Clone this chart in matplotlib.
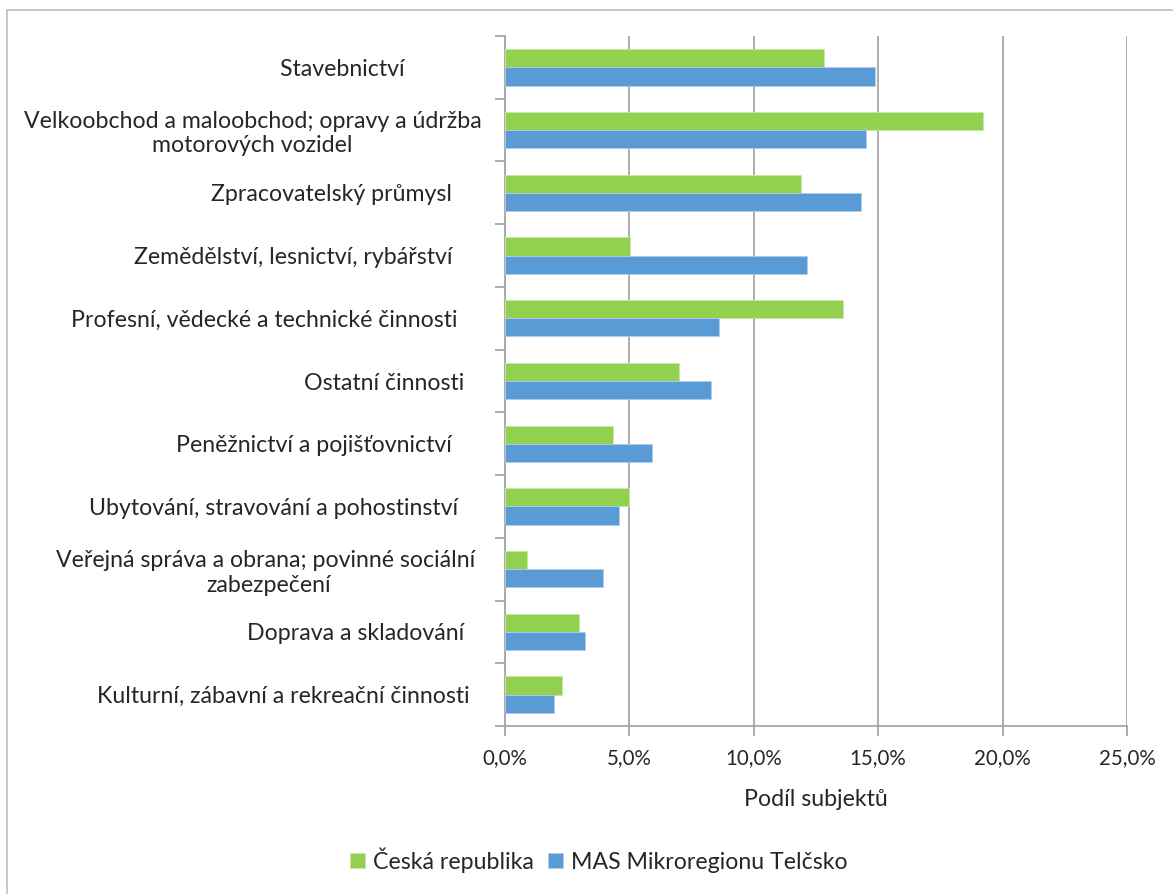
import matplotlib
matplotlib.use("Agg")
import matplotlib.pyplot as plt
from matplotlib.patches import Rectangle
from matplotlib.ticker import FuncFormatter, MultipleLocator
import numpy as np

plt.rcParams['font.family'] = ['Lato', 'DejaVu Sans']

categories = [
    "Stavebnictví" + " " * 13,
    "Velkoobchod a maloobchod; opravy a údržba\nmotorových vozidel",
    "Zpracovatelský průmysl" + " " * 5,
    "Zemědělství, lesnictví, rybářství" + " " * 5,
    "Profesní, vědecké a technické činnosti" + " " * 4,
    "Ostatní činnosti" + " " * 3,
    "Peněžnictví a pojišťovnictví" + " " * 5,
    "Ubytování, stravování a pohostinství" + " " * 4,
    "Veřejná správa a obrana; povinné sociální" + " " + "\nzabezpečení",
    "Doprava a skladování" + " " * 3,
    "Kulturní, zábavní a rekreační činnosti" + " " * 2,
]
cr_values = [12.81, 19.20, 11.88, 5.02, 13.57, 7.01, 4.36, 5.00, 0.88, 2.96, 2.29]
mas_values = [14.88, 14.50, 14.30, 12.12, 8.61, 8.27, 5.91, 4.60, 3.93, 3.21, 1.95]
series_names = ["Česká republika", "MAS Mikroregionu Telčsko"]
x_label = "Podíl subjektů"

green = "#92D050"
blue = "#5B9BD5"
grid_c = "#A6A6A6"
text_c = "#262626"

W, H = 1173, 894
fig = plt.figure(figsize=(W / 100, H / 100), dpi=100)
ax = fig.add_axes([505 / W, 1 - 726 / H, (1127 - 505) / W, (726 - 36) / H])

n = len(categories)
y = np.arange(n)
h = 0.29
ax.barh(y - h / 2, cr_values, height=h, color=green, edgecolor="#C9E8A8", linewidth=0.6,
        label=series_names[0], zorder=3)
ax.barh(y + h / 2, mas_values, height=h, color=blue, edgecolor="#B0CDEB", linewidth=0.6,
        label=series_names[1], zorder=3)

ax.set_xlim(0, 25)
ax.set_ylim(n - 0.5, -0.5)
ax.xaxis.set_major_locator(MultipleLocator(5))
ax.xaxis.set_major_formatter(FuncFormatter(lambda v, p: f"{v:.1f}%".replace(".", ",")))
ax.grid(axis="x", color=grid_c, linewidth=1.3, zorder=0)
ax.set_axisbelow(True)

for s in ["top", "right"]:
    ax.spines[s].set_visible(False)
for s in ["left", "bottom"]:
    ax.spines[s].set_color(grid_c)
    ax.spines[s].set_linewidth(1.3)

ax.set_yticks(y)
ax.set_yticklabels(categories, multialignment="center")
ax.set_yticks(np.arange(n + 1) - 0.5, minor=True)
ax.tick_params(axis="y", which="major", length=0, pad=17, labelsize=16.7, labelcolor=text_c)
ax.tick_params(axis="y", which="minor", length=7, width=1.3, color=grid_c)
ax.tick_params(axis="x", length=7, width=1.3, color=grid_c, labelsize=14.8,
               labelcolor=text_c, pad=9)
ax.set_xlabel(x_label, fontsize=16.7, color=text_c, labelpad=15)

leg = fig.legend(loc="center", bbox_to_anchor=(599 / W, 1 - 860 / H), ncol=2, frameon=False,
                 fontsize=16.7, handlelength=0.65, handleheight=0.65, handletextpad=0.35,
                 columnspacing=0.6)
for t in leg.get_texts():
    t.set_color(text_c)

fig.patches.append(Rectangle((7 / W, -0.1), 1.2, 1 - 10 / H + 0.1, transform=fig.transFigure,
                             fill=False, edgecolor="#BFBFBF", linewidth=1.2, clip_on=False))

fig.savefig("out.png", dpi=100, facecolor="white")
